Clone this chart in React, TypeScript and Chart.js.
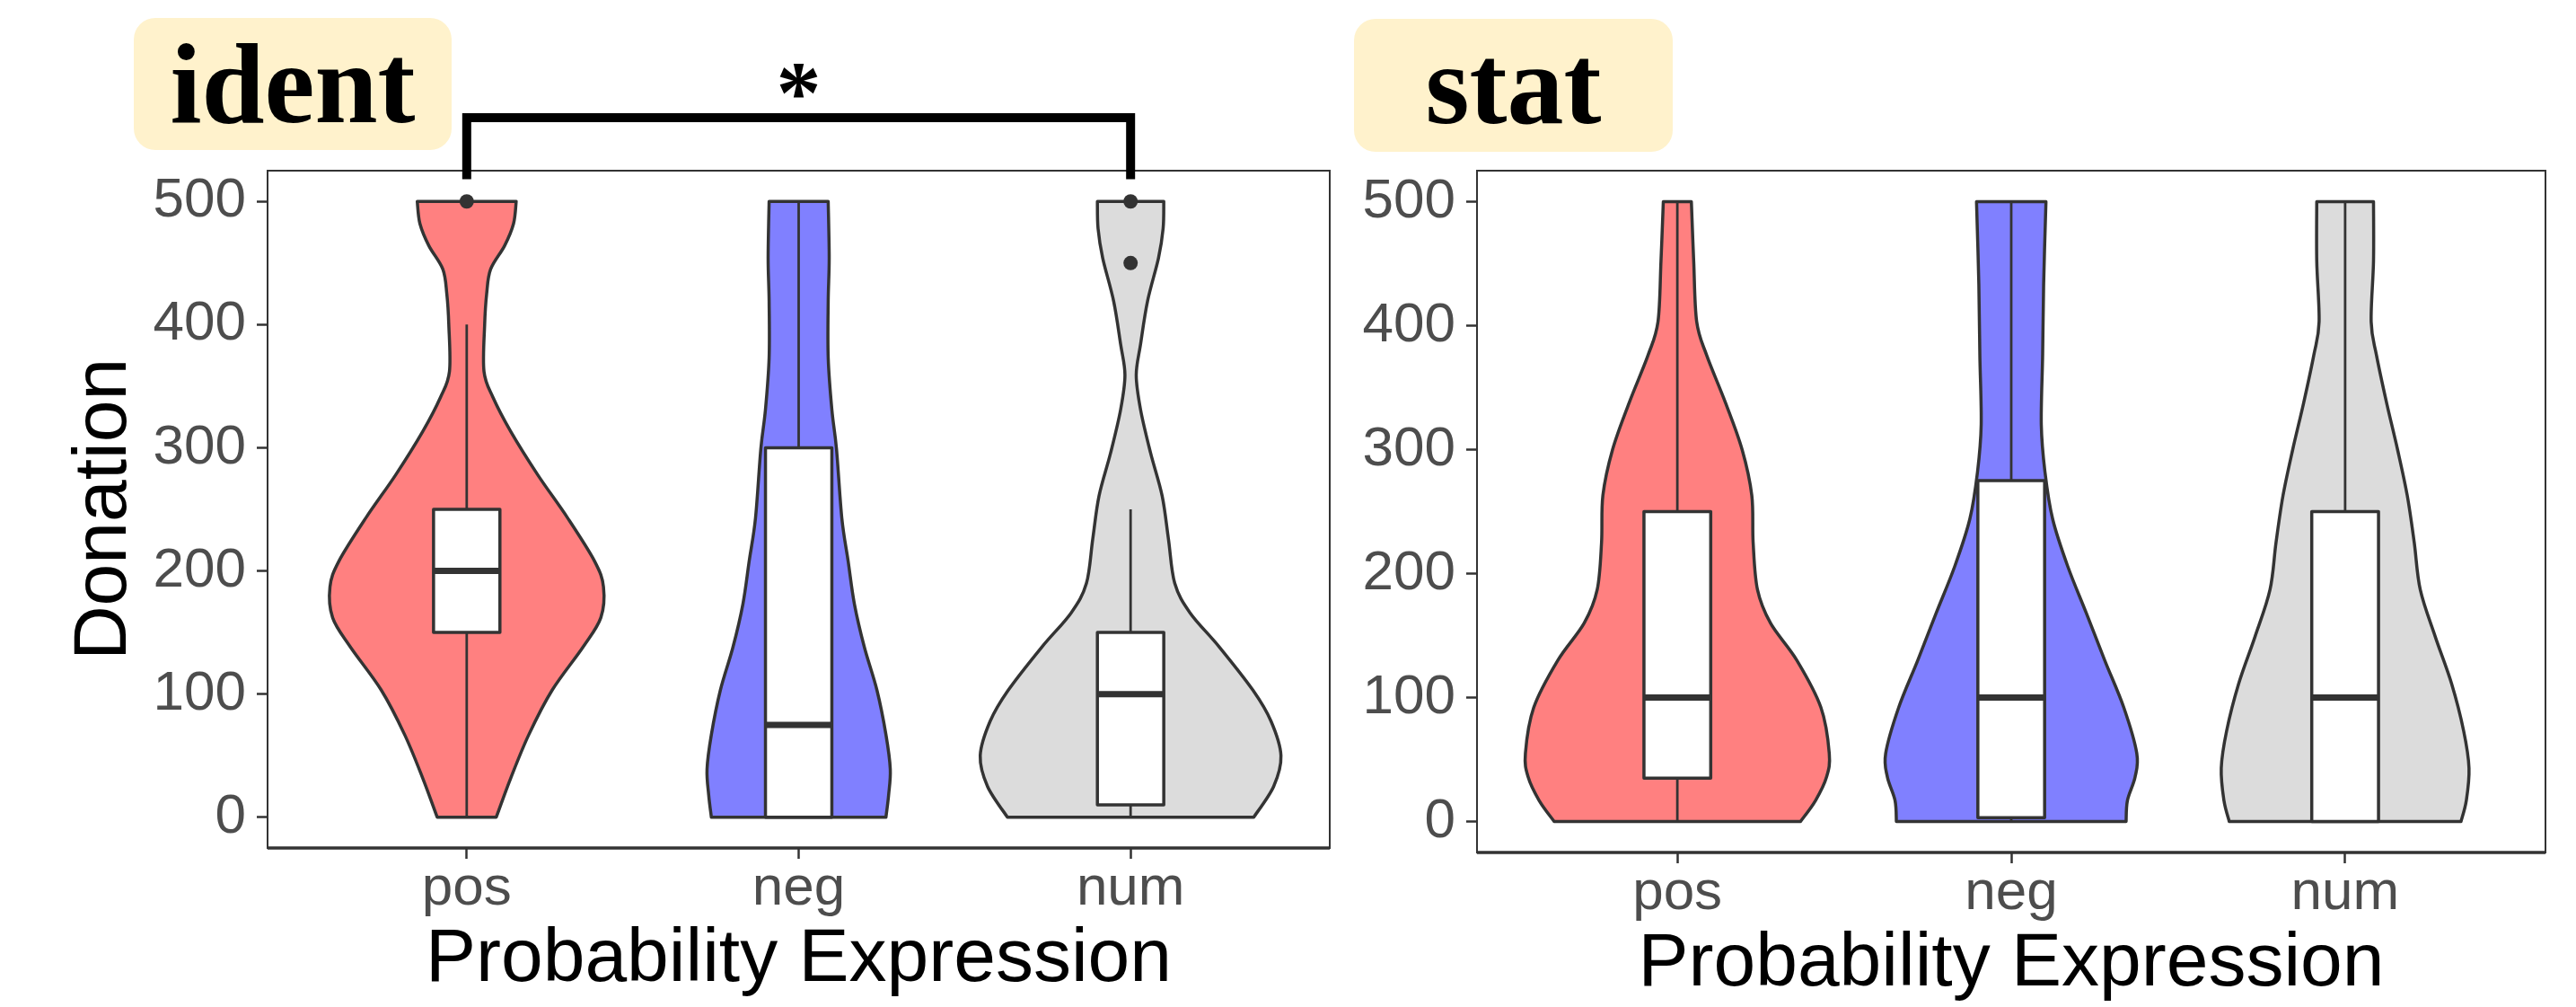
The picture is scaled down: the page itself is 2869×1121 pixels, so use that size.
import React, { useEffect, useRef } from 'react';
import { Chart, registerables } from 'chart.js';

Chart.register(...registerables);

// ---------- data ----------
const categories = ['pos', 'neg', 'num'];
const yTickValues = [0, 100, 200, 300, 400, 500];
const panelTitles = ['ident', 'stat'];
const yAxisTitle = 'Donation';
const xAxisTitle = 'Probability Expression';

// violin outlines: donation level -> half width (category units)
const identPosLevels = [0, 32, 67, 103, 138, 162, 187, 208, 243, 278, 313, 341, 362, 400, 425, 445, 464, 482, 500];
const identPosWidths = [0.089, 0.133, 0.187, 0.257, 0.35, 0.404, 0.412, 0.385, 0.304, 0.214, 0.133, 0.079, 0.052, 0.054, 0.06, 0.072, 0.114, 0.141, 0.149];
const identNegLevels = [0, 18, 39, 67, 103, 138, 173, 208, 243, 299, 331, 373, 419, 454, 500];
const identNegWidths = [0.263, 0.271, 0.276, 0.263, 0.236, 0.198, 0.168, 0.149, 0.13, 0.114, 0.1, 0.089, 0.089, 0.092, 0.089];
const identNumLevels = [0, 25, 50, 78, 103, 138, 166, 190, 226, 261, 296, 331, 359, 384, 419, 454, 478, 500];
const identNumWidths = [0.371, 0.431, 0.453, 0.423, 0.369, 0.268, 0.179, 0.133, 0.114, 0.095, 0.06, 0.03, 0.017, 0.03, 0.051, 0.084, 0.098, 0.1];

const statPosLevels = [0, 17, 36, 55, 92, 130, 160, 187, 225, 263, 300, 338, 376, 403, 452, 500];
const statPosWidths = [0.369, 0.414, 0.447, 0.455, 0.43, 0.358, 0.279, 0.24, 0.227, 0.223, 0.194, 0.144, 0.088, 0.058, 0.049, 0.042];
const statNegLevels = [0, 17, 36, 55, 92, 130, 168, 206, 244, 282, 320, 376, 433, 500];
const statNegWidths = [0.344, 0.348, 0.371, 0.376, 0.337, 0.28, 0.225, 0.169, 0.124, 0.101, 0.09, 0.094, 0.097, 0.104];
const statNumLevels = [0, 17, 43, 73, 111, 149, 187, 225, 263, 300, 338, 376, 403, 452, 500];
const statNumWidths = [0.347, 0.363, 0.371, 0.355, 0.319, 0.27, 0.225, 0.207, 0.186, 0.157, 0.124, 0.094, 0.078, 0.085, 0.085];

// box plot statistics (pos, neg, num)
const identLower = [0, 0, 0];
const identQ1 = [150, 0, 10];
const identMedian = [200, 75, 100];
const identQ3 = [250, 300, 150];
const identUpper = [400, 500, 250];
const identOutlierGroups = ['pos', 'num', 'num'];
const identOutlierValues = [500, 500, 450];

const statLower = [0, 0, 0];
const statQ1 = [35, 3, 0];
const statMedian = [100, 100, 100];
const statQ3 = [250, 275, 250];
const statUpper = [500, 500, 500];
const statOutlierGroups: string[] = [];
const statOutlierValues: number[] = [];

// significance bracket (ident panel)
const sigFrom = 'pos';
const sigTo = 'num';
const sigLabel = '*';
const sigBracketTop = 568;
const sigBracketFoot = 518;

// ---------- styles ----------
const fillColors = ['#FF8080', '#8080FF', '#DCDCDC'];
const ink = '#333333';
const boxWidth = 0.2;
const sansFont = '"Liberation Sans", Arial, sans-serif';
const serifFont = '"Liberation Serif", "Times New Roman", serif';

type PanelSpec = {
  title: string;
  levels: number[][];
  widths: number[][];
  lower: number[];
  q1: number[];
  median: number[];
  q3: number[];
  upper: number[];
  outlierGroups: string[];
  outlierValues: number[];
  showYTitle: boolean;
  bracket: boolean;
  canvasLeft: number;
  canvasWidth: number;
  yAxisWidth: number;
  xAxisHeight: number;
  padRight: number;
  xTitlePad: number;
};

const panels: PanelSpec[] = [
  {
    title: panelTitles[0],
    levels: [identPosLevels, identNegLevels, identNumLevels],
    widths: [identPosWidths, identNegWidths, identNumWidths],
    lower: identLower, q1: identQ1, median: identMedian, q3: identQ3, upper: identUpper,
    outlierGroups: identOutlierGroups, outlierValues: identOutlierValues,
    showYTitle: true, bracket: true,
    canvasLeft: 0, canvasWidth: 1490, yAxisWidth: 298, xAxisHeight: 177, padRight: 9, xTitlePad: 2,
  },
  {
    title: panelTitles[1],
    levels: [statPosLevels, statNegLevels, statNumLevels],
    widths: [statPosWidths, statNegWidths, statNumWidths],
    lower: statLower, q1: statQ1, median: statMedian, q3: statQ3, upper: statUpper,
    outlierGroups: statOutlierGroups, outlierValues: statOutlierValues,
    showYTitle: false, bracket: false,
    canvasLeft: 1490, canvasWidth: 1379, yAxisWidth: 155, xAxisHeight: 172, padRight: 34, xTitlePad: -3,
  },
];

function smoothThrough(ctx: CanvasRenderingContext2D, pts: number[][], first: boolean) {
  if (first) ctx.moveTo(pts[0][0], pts[0][1]);
  else ctx.lineTo(pts[0][0], pts[0][1]);
  for (let i = 0; i < pts.length - 1; i++) {
    const p0 = pts[i - 1] || pts[i];
    const p1 = pts[i];
    const p2 = pts[i + 1];
    const p3 = pts[i + 2] || p2;
    ctx.bezierCurveTo(
      p1[0] + (p2[0] - p0[0]) / 6, p1[1] + (p2[1] - p0[1]) / 6,
      p2[0] - (p3[0] - p1[0]) / 6, p2[1] - (p3[1] - p1[1]) / 6,
      p2[0], p2[1]
    );
  }
}

function makeViolinPlugin(spec: PanelSpec) {
  return {
    id: 'violins',
    beforeDatasetsDraw(chart: any) {
      const ctx: CanvasRenderingContext2D = chart.ctx;
      const xs = chart.scales.x;
      const ys = chart.scales.y;
      ctx.save();
      ctx.lineJoin = 'round';
      ctx.lineCap = 'butt';
      categories.forEach((_, i) => {
        const c = i + 1;
        const lv = spec.levels[i];
        const wd = spec.widths[i];
        const right = lv.map((v, k) => [xs.getPixelForValue(c + wd[k]), ys.getPixelForValue(v)]);
        const left = lv.map((v, k) => [xs.getPixelForValue(c - wd[k]), ys.getPixelForValue(v)]).reverse();
        ctx.beginPath();
        smoothThrough(ctx, right, true);
        smoothThrough(ctx, left, false);
        ctx.closePath();
        ctx.fillStyle = fillColors[i];
        ctx.fill();
        ctx.strokeStyle = ink;
        ctx.lineWidth = 3.5;
        ctx.stroke();

        const cx = xs.getPixelForValue(c);
        const bl = xs.getPixelForValue(c - boxWidth / 2);
        const br = xs.getPixelForValue(c + boxWidth / 2);
        const yq1 = ys.getPixelForValue(spec.q1[i]);
        const yq3 = ys.getPixelForValue(spec.q3[i]);
        const ymed = ys.getPixelForValue(spec.median[i]);
        const ylo = ys.getPixelForValue(spec.lower[i]);
        const yhi = ys.getPixelForValue(spec.upper[i]);
        // whiskers
        ctx.lineWidth = 2.8;
        ctx.beginPath();
        ctx.moveTo(cx, yq3);
        ctx.lineTo(cx, yhi);
        ctx.moveTo(cx, yq1);
        ctx.lineTo(cx, ylo);
        ctx.stroke();
        // box
        ctx.fillStyle = '#FFFFFF';
        ctx.fillRect(bl, yq3, br - bl, yq1 - yq3);
        ctx.lineWidth = 3.5;
        ctx.strokeRect(bl, yq3, br - bl, yq1 - yq3);
        // median
        ctx.lineWidth = 7;
        ctx.beginPath();
        ctx.moveTo(bl, ymed);
        ctx.lineTo(br, ymed);
        ctx.stroke();
      });
      ctx.restore();
    },
    afterDraw(chart: any) {
      const ctx: CanvasRenderingContext2D = chart.ctx;
      const a = chart.chartArea;
      const xs = chart.scales.x;
      const ys = chart.scales.y;
      ctx.save();
      ctx.strokeStyle = ink;
      ctx.lineWidth = 2;
      ctx.strokeRect(a.left, a.top, a.right - a.left, a.bottom - a.top);
      ctx.lineWidth = 3.5;
      ctx.beginPath();
      ctx.moveTo(a.left, a.bottom);
      ctx.lineTo(a.right, a.bottom);
      ctx.stroke();
      if (spec.bracket) {
        const x1 = xs.getPixelForValue(categories.indexOf(sigFrom) + 1);
        const x2 = xs.getPixelForValue(categories.indexOf(sigTo) + 1);
        const yt = ys.getPixelForValue(sigBracketTop);
        const yf = ys.getPixelForValue(sigBracketFoot);
        ctx.strokeStyle = '#000000';
        ctx.lineWidth = 10;
        ctx.lineJoin = 'miter';
        ctx.beginPath();
        ctx.moveTo(x1, yf);
        ctx.lineTo(x1, yt);
        ctx.lineTo(x2, yt);
        ctx.lineTo(x2, yf);
        ctx.stroke();
        ctx.fillStyle = '#000000';
        ctx.font = `bold 100px ${serifFont}`;
        ctx.textAlign = 'center';
        ctx.textBaseline = 'alphabetic';
        ctx.fillText(sigLabel, (x1 + x2) / 2, yt + 5);
      }
      ctx.restore();
    },
  };
}

function Panel({ spec }: { spec: PanelSpec }) {
  const ref = useRef<HTMLCanvasElement>(null);
  useEffect(() => {
    const canvas = ref.current;
    if (!canvas) return;
    const points = spec.outlierGroups.map((g, k) => ({ x: categories.indexOf(g) + 1, y: spec.outlierValues[k] }));
    const chart = new Chart(canvas, {
      type: 'scatter',
      data: {
        datasets: [
          {
            data: points,
            pointRadius: 8,
            pointBackgroundColor: ink,
            pointBorderWidth: 0,
            clip: false as any,
          },
        ],
      },
      options: {
        animation: false,
        responsive: false,
        devicePixelRatio: 1,
        events: [],
        layout: { padding: { top: 190, left: 0, right: spec.padRight, bottom: 0 } },
        plugins: { legend: { display: false }, tooltip: { enabled: false } },
        scales: {
          x: {
            type: 'linear',
            min: 0.4,
            max: 3.6,
            afterBuildTicks: (s: any) => {
              s.ticks = categories.map((_, i) => ({ value: i + 1 }));
            },
            afterFit: (s: any) => {
              s.height = spec.xAxisHeight;
            },
            ticks: {
              callback: (v: any) => categories[Math.round(Number(v)) - 1] ?? '',
              font: { family: sansFont, size: 62, lineHeight: 1.1 },
              color: '#4D4D4D',
              padding: 0,
              maxRotation: 0,
              autoSkip: false,
            },
            grid: { display: true, drawOnChartArea: false, drawTicks: true, tickLength: 12, tickColor: ink, tickWidth: 2.5 },
            border: { display: false },
            title: {
              display: true,
              text: xAxisTitle,
              color: '#000000',
              font: { family: sansFont, size: 84 },
              padding: { top: 0, bottom: spec.xTitlePad },
            },
          },
          y: {
            type: 'linear',
            min: -25,
            max: 525,
            afterBuildTicks: (s: any) => {
              s.ticks = yTickValues.map((v) => ({ value: v }));
            },
            afterFit: (s: any) => {
              s.width = spec.yAxisWidth;
            },
            ticks: {
              font: { family: sansFont, size: 62 },
              color: '#4D4D4D',
              padding: 12,
            },
            grid: { display: true, drawOnChartArea: false, drawTicks: true, tickLength: 12, tickColor: ink, tickWidth: 2.5 },
            border: { display: false },
            title: {
              display: spec.showYTitle,
              text: yAxisTitle,
              color: '#000000',
              font: { family: sansFont, size: 84 },
              padding: { top: 66, bottom: 0 },
            },
          },
        },
      },
      plugins: [makeViolinPlugin(spec)],
    } as any);
    return () => chart.destroy();
  }, [spec]);
  return (
    <canvas
      ref={ref}
      width={spec.canvasWidth}
      height={1121}
      style={{ position: 'absolute', left: spec.canvasLeft, top: 0, width: spec.canvasWidth, height: 1121 }}
    />
  );
}

const titleBoxes = [
  { left: 149, top: 20, width: 354, height: 147 },
  { left: 1508, top: 21, width: 355, height: 148 },
];

export default function App() {
  return (
    <div style={{ position: 'absolute', left: 0, top: 0, width: 2869, height: 1121, background: '#FFFFFF', overflow: 'hidden' }}>
      {panels.map((p, i) => (
        <Panel key={i} spec={p} />
      ))}
      {panels.map((p, i) => (
        <div
          key={'t' + i}
          style={{
            position: 'absolute',
            left: titleBoxes[i].left,
            top: titleBoxes[i].top,
            width: titleBoxes[i].width,
            height: titleBoxes[i].height,
            background: '#FFF2CC',
            borderRadius: 24,
            display: 'flex',
            alignItems: 'center',
            justifyContent: 'center',
            fontFamily: serifFont,
            fontWeight: 'bold',
            fontSize: 126,
            color: '#000000',
            lineHeight: 'normal',
          }}
        >
          {p.title}
        </div>
      ))}
    </div>
  );
}
